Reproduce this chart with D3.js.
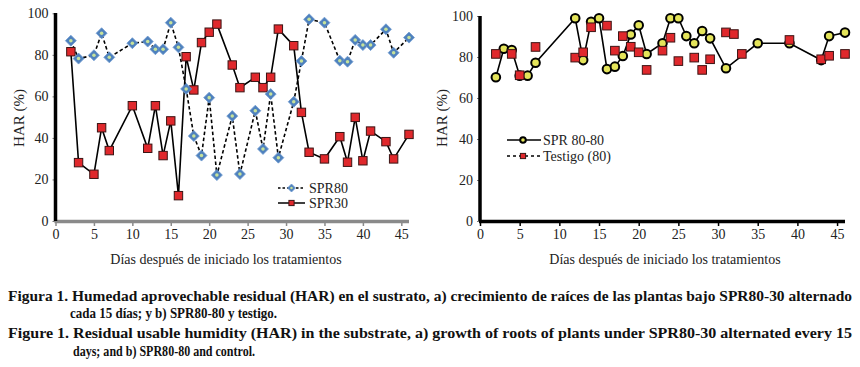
<!DOCTYPE html>
<html><head><meta charset="utf-8">
<script src="https://cdn.jsdelivr.net/npm/d3@7"></script>
</head><body style="margin:0">
<svg id="c" width="860" height="367"></svg>
<script>
// Chart a)
const daysA80 = [2,3,5,6,7,10,12,13,14,15,16,17,18,19,20,21,23,24,26,27,28,29,31,32,33,35,37,38,39,40,41,43,44,46];
const spr80   = [86.8,78.2,79.8,90.4,78.8,85.6,86.4,82.7,82.7,95.5,83.6,63.6,40.9,31.5,59.4,22.1,50.5,22.6,53.1,34.7,61.1,30.5,57.4,77,97.1,95.5,77.2,76.7,87.2,84.7,84.7,92.3,81,88.3];
const daysA30 = [2,3,5,6,7,10,12,13,14,15,16,17,18,19,20,21,23,24,26,27,28,29,31,32,33,35,37,38,39,40,41,43,44,46];
const spr30   = [81.5,28.1,22.5,44.9,33.9,55.5,35,55.5,31.5,48.2,12.2,79.1,63.1,85.9,90.9,94.8,75.1,64.2,69.2,64.2,69.2,92.4,84.4,52.3,33.1,29.9,40.6,28.3,49.9,29,43.3,38.2,29.9,41.7];
// Chart b)
const daysB8080 = [2,3,4,5,6,7,12,13,14,15,16,17,18,19,20,21,23,24,25,26,27,28,29,31,35,39,43,44,46];
const spr8080   = [70.1,84,83.4,70.9,70.9,77.2,98.9,78.5,97.2,98.9,74.1,75.3,80.5,91,95.5,81.5,86.7,98.9,98.9,90.2,86.7,92.7,89.1,74.5,86.7,86.7,78.5,90.2,91.9];
const daysTest = [2,4,5,7,12,13,14,16,17,18,19,20,21,23,24,25,27,28,29,31,32,33,39,43,44,46];
const testigo  = [81.5,81.5,71.1,84.9,79.7,82.3,94.5,95.3,83.1,90.2,85,82.3,73.7,83.1,89.4,78,79.7,73.7,78.9,92,91.2,81.5,88.3,78.9,80.6,81.5];
const xTicks = [0,5,10,15,20,25,30,35,40,45];
const yTicks = [0,20,40,60,80,100];
const xTitle = "Días después de iniciado los tratamientos";
const yTitle = "HAR (%)";
const caption = [
 "Figura 1. Humedad aprovechable residual (HAR) en el sustrato, a) crecimiento de raíces de las plantas bajo SPR80-30 alternado",
 "cada 15 días; y b) SPR80-80 y testigo.",
 "Figure 1. Residual usable humidity (HAR) in the substrate, a) growth of roots of plants under SPR80-30 alternated every 15",
 "days; and b) SPR80-80 and control."
];

const svg = d3.select("#c");
const BLUE="#4f81bd", GREEN="#c6e29a", RED="#e0282c", SQS="#3b1414", YEL="#e4e45a", TXT="#222";
function serif(sel){ return sel.attr("font-family","Liberation Serif").style("font-family","'Liberation Serif'"); }
function T(g){ return serif(g.append("text")).attr("fill", TXT); }
function diamond(g,x,y,s){
  g.append("path").attr("d",`M${x},${y-s}L${x+s},${y}L${x},${y+s}L${x-s},${y}Z`).attr("fill",BLUE).attr("stroke","#6e9bd0").attr("stroke-width",0.8);
  g.append("circle").attr("cx",x).attr("cy",y).attr("r",s*0.32).attr("fill",GREEN);
}
function square(g,x,y,s){
  g.append("rect").attr("x",x-s).attr("y",y-s).attr("width",2*s).attr("height",2*s).attr("fill",RED).attr("stroke",SQS).attr("stroke-width",1);
}
function circ(g,x,y,r){
  g.append("circle").attr("cx",x).attr("cy",y).attr("r",r).attr("fill",YEL).attr("stroke","#000").attr("stroke-width",2);
}

function axes(g,x,y,x0,x1,y0,y1,xColor){
  const ya = d3.axisLeft(y).tickValues(yTicks).tickSize(3).tickPadding(4);
  const gy = g.append("g").attr("transform",`translate(${x0},0)`).call(ya);
  serif(gy).attr("font-size",14);
  gy.select(".domain").remove();
  gy.selectAll("line").attr("stroke","#777");
  serif(gy.selectAll("text")).attr("font-size",14).attr("fill",TXT);
  const xa = d3.axisBottom(x).tickValues(xTicks).tickSize(5).tickPadding(3);
  const gx = g.append("g").attr("transform",`translate(0,${y0})`).call(xa);
  serif(gx).attr("font-size",14);
  gx.select(".domain").remove();
  gx.selectAll("line").attr("stroke",xColor).attr("stroke-width",1.5);
  serif(gx.selectAll("text")).attr("font-size",14).attr("fill",TXT);
  g.append("line").attr("x1",x0-1).attr("x2",x1).attr("y1",y0+0.5).attr("y2",y0+0.5).attr("stroke",xColor).attr("stroke-width",3.5);
  g.append("line").attr("x1",x0).attr("x2",x0).attr("y1",y0).attr("y2",y1).attr("stroke","#000").attr("stroke-width",3.5);
}

// ---- Chart a
{
  const g = svg.append("g");
  const x = d3.scaleLinear().domain([0,46]).range([55.5,409]);
  const y = d3.scaleLinear().domain([0,100]).range([221,13.3]);
  axes(g,x,y,55.5,409,221,13,"#8a8a8a");
  const line = d3.line().x(d=>x(d[0])).y(d=>y(d[1]));
  const d80 = daysA80.map((d,i)=>[d,spr80[i]]);
  const d30 = daysA30.map((d,i)=>[d,spr30[i]]);
  g.append("path").attr("d",line(d80)).attr("fill","none").attr("stroke","#000").attr("stroke-width",1.6).attr("stroke-dasharray","3.5,2.5");
  g.append("path").attr("d",line(d30)).attr("fill","none").attr("stroke","#000").attr("stroke-width",1.6);
  d30.forEach(d=>square(g,x(d[0]),y(d[1]),4.2));
  d80.forEach(d=>diamond(g,x(d[0]),y(d[1]),5.5));
  g.append("line").attr("x1",278).attr("x2",305).attr("y1",188).attr("y2",188).attr("stroke","#000").attr("stroke-width",1.3).attr("stroke-dasharray","2.5,2");
  diamond(g,291.5,188,4);
  T(g).attr("x",309).attr("y",193).attr("font-size",14).text("SPR80");
  g.append("line").attr("x1",278).attr("x2",305).attr("y1",203).attr("y2",203).attr("stroke","#000").attr("stroke-width",1.5);
  square(g,291.5,203,2.6);
  T(g).attr("x",309).attr("y",208).attr("font-size",14).text("SPR30");
  T(g).attr("x",226).attr("y",264).attr("text-anchor","middle").attr("font-size",14).text(xTitle);
  T(g).attr("transform","translate(24,118) rotate(-90)").attr("text-anchor","middle").attr("font-size",15).text(yTitle);
}
// ---- Chart b
{
  const g = svg.append("g");
  const x = d3.scaleLinear().domain([0,46]).range([480,845]);
  const y = d3.scaleLinear().domain([0,100]).range([221,16]);
  axes(g,x,y,480,845,221,16,"#000");
  const line = d3.line().x(d=>x(d[0])).y(d=>y(d[1]));
  const d88 = daysB8080.map((d,i)=>[d,spr8080[i]]);
  const dt = daysTest.map((d,i)=>[d,testigo[i]]);
  g.append("path").attr("d",line(d88)).attr("fill","none").attr("stroke","#000").attr("stroke-width",1.6);
  d88.forEach(d=>circ(g,x(d[0]),y(d[1]),4.3));
  dt.forEach(d=>square(g,x(d[0]),y(d[1]),4.3));
  g.append("line").attr("x1",507).attr("x2",541).attr("y1",140).attr("y2",140).attr("stroke","#000").attr("stroke-width",1.5);
  circ(g,523,140,2.8);
  T(g).attr("x",543).attr("y",145).attr("font-size",14).text("SPR 80-80");
  g.append("line").attr("x1",507).attr("x2",541).attr("y1",156).attr("y2",156).attr("stroke","#000").attr("stroke-width",1.3).attr("stroke-dasharray","3,3");
  square(g,523,156,2.6);
  T(g).attr("x",543).attr("y",161).attr("font-size",14).text("Testigo (80)");
  T(g).attr("x",665).attr("y",264).attr("text-anchor","middle").attr("font-size",14).text(xTitle);
  T(g).attr("transform","translate(447,118) rotate(-90)").attr("text-anchor","middle").attr("font-size",15).text(yTitle);
}
// ---- Caption
const cap = svg.append("g");
function C(x,y,len,s){
  const t = serif(cap.append("text")).attr("x",x).attr("y",y).attr("font-weight","bold").attr("font-size",15).attr("fill","#111").text(s);
  if(len) t.attr("textLength",len).attr("lengthAdjust","spacingAndGlyphs");
}
C(8,301,844,caption[0]);
C(70,318,207,caption[1]);
C(8,338,844,caption[2]);
C(73,356,182,caption[3]);
</script></body></html>
